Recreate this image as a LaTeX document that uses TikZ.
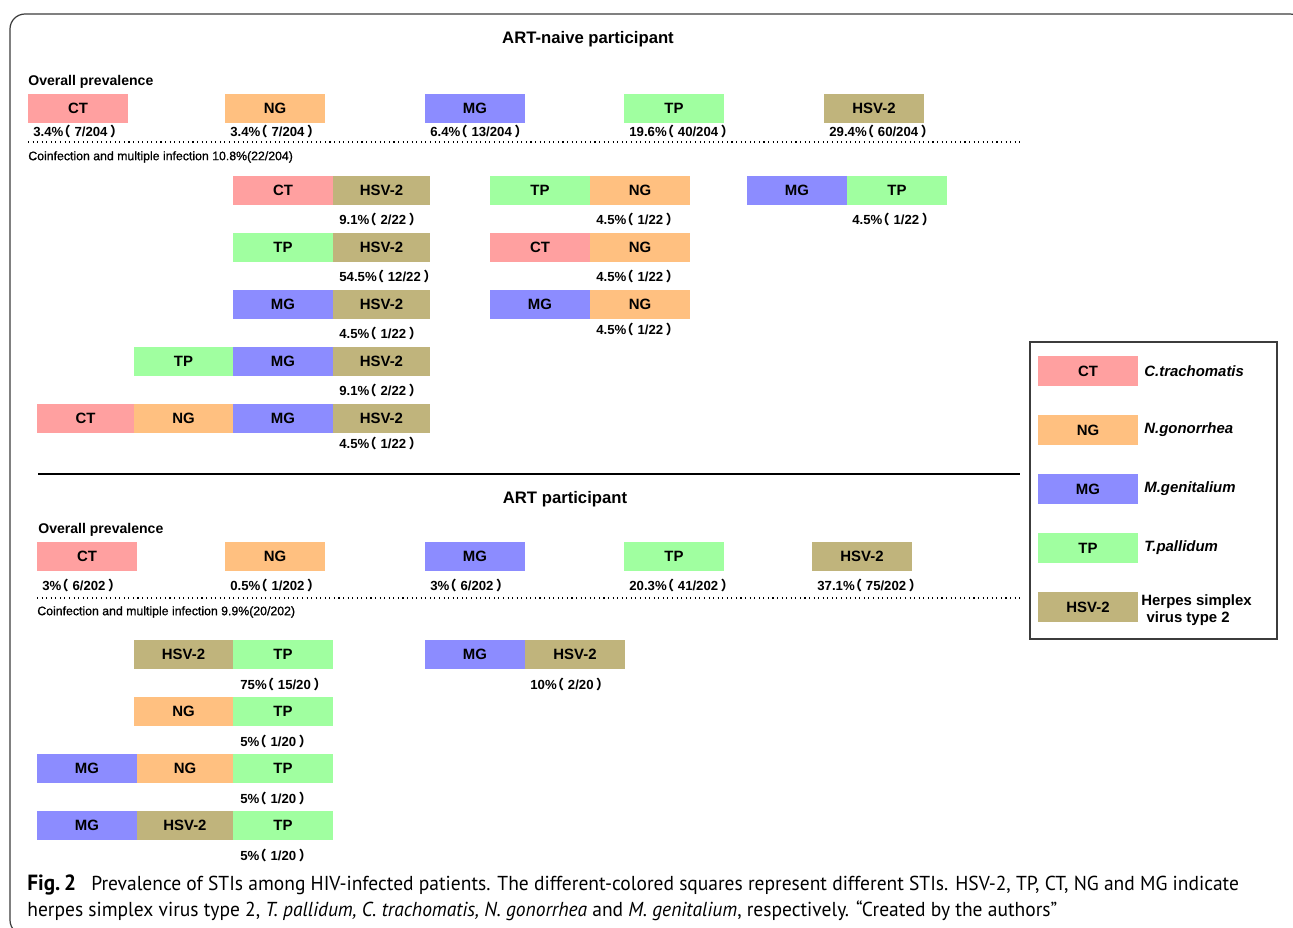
\documentclass[tikz,border=0pt]{standalone}
\usepackage{fontspec}
\setmainfont{Liberation Sans}
\newfontfamily\cjkfont{Noto Sans CJK SC}
\newfontfamily\capfont{PT Sans}[FakeStretch=0.965]
\newfontfamily\medfont{Liberation Sans}[FakeBold=0.9]
\usetikzlibrary{positioning}

\definecolor{ctc}{RGB}{255,160,160}
\definecolor{ngc}{RGB}{255,192,128}
\definecolor{mgc}{RGB}{140,140,255}
\definecolor{tpc}{RGB}{160,255,160}
\definecolor{hsvc}{RGB}{192,180,124}
\definecolor{framec}{RGB}{60,60,60}

\newcommand{\wideL}{\kern-0.45em{\cjkfont （}\kern0.3em}
\newcommand{\wideR}{\kern0.2em{\cjkfont ）}}

\tikzset{
  stibox/.style={rectangle, inner sep=0pt, outer sep=0pt, anchor=north west,
    minimum width=2cm, minimum height=0.58cm,
    font=\bfseries\fontsize{8.5}{10}\selectfont},
  ctbox/.style={stibox, fill=ctc},
  ngbox/.style={stibox, fill=ngc},
  mgbox/.style={stibox, fill=mgc},
  tpbox/.style={stibox, fill=tpc},
  hsvbox/.style={stibox, fill=hsvc},
  rate/.style={anchor=west, inner sep=0pt, font=\bfseries\fontsize{7.5}{9}\selectfont},
  heading/.style={inner sep=0pt, font=\bfseries\fontsize{9.5}{11}\selectfont},
  subhead/.style={anchor=west, inner sep=0pt, font=\bfseries\fontsize{8}{10}\selectfont},
  coinf/.style={anchor=west, inner sep=0pt, font=\medfont\fontsize{7}{8}\selectfont},
  species/.style={anchor=west, inner sep=0pt, font=\bfseries\itshape\fontsize{8.5}{10}\selectfont},
  capline/.style={anchor=base west, inner sep=0pt, font=\capfont\fontsize{11.5}{14}\selectfont}
}

\begin{document}
\begin{tikzpicture}[x=0.02cm, y=-0.02cm]
    \useasboundingbox (0,0) rectangle (1293,927);
    \draw[framec, line width=0.7pt, rounded corners=0.3cm] (10,14) rectangle (1305,935);

    % ART-naive
    \node[heading] (naive) at (588,39) {ART-naive participant};
    \node[subhead] (naive-all) at (28,82) {Overall prevalence};
    \node[ctbox] (n-ct) at (28,94) {CT};
    \node[ngbox] (n-ng) at (225,94) {NG};
    \node[mgbox] (n-mg) at (425,94) {MG};
    \node[tpbox] (n-tp) at (624,94) {TP};
    \node[hsvbox] (n-hsv) at (824,94) {HSV-2};
    \node[rate] (n-ct-r) at (33,131) {3.4\%\wideL 7/204\wideR};
    \node[rate] (n-ng-r) at (230,131) {3.4\%\wideL 7/204\wideR};
    \node[rate] (n-mg-r) at (430,131) {6.4\%\wideL 13/204\wideR};
    \node[rate] (n-tp-r) at (629,131) {19.6\%\wideL 40/204\wideR};
    \node[rate] (n-hsv-r) at (829,131) {29.4\%\wideL 60/204\wideR};
    \draw[dotted, line width=0.6pt] (28,142) -- (1020,142);
    \node[coinf] (naive-co) at (28,157) {Coinfection and multiple infection 10.8\%(22/204)};

    \node[ctbox] (n1a) at (233,176) {CT};
    \node[hsvbox, minimum width=1.94cm, right=0pt of n1a] (n1b) {HSV-2};
    \node[rate] (n1-r) at (339,219) {9.1\%\wideL 2/22\wideR};
    \node[tpbox] (n2a) at (233,233) {TP};
    \node[hsvbox, minimum width=1.94cm, right=0pt of n2a] (n2b) {HSV-2};
    \node[rate] (n2-r) at (339,276) {54.5\%\wideL 12/22\wideR};
    \node[mgbox] (n3a) at (233,290) {MG};
    \node[hsvbox, minimum width=1.94cm, right=0pt of n3a] (n3b) {HSV-2};
    \node[rate] (n3-r) at (339,333) {4.5\%\wideL 1/22\wideR};
    \node[tpbox, minimum width=1.98cm] (n4a) at (134,347) {TP};
    \node[mgbox, right=0pt of n4a] (n4b) {MG};
    \node[hsvbox, minimum width=1.94cm, right=0pt of n4b] (n4c) {HSV-2};
    \node[rate] (n4-r) at (339,390) {9.1\%\wideL 2/22\wideR};
    \node[ctbox, minimum width=1.94cm] (n5a) at (37,404) {CT};
    \node[ngbox, minimum width=1.98cm, right=0pt of n5a] (n5b) {NG};
    \node[mgbox, right=0pt of n5b] (n5c) {MG};
    \node[hsvbox, minimum width=1.94cm, right=0pt of n5c] (n5d) {HSV-2};
    \node[rate] (n5-r) at (339,443) {4.5\%\wideL 1/22\wideR};

    \node[tpbox] (n6a) at (490,176) {TP};
    \node[ngbox, right=0pt of n6a] (n6b) {NG};
    \node[rate] (n6-r) at (596,219) {4.5\%\wideL 1/22\wideR};
    \node[ctbox] (n7a) at (490,233) {CT};
    \node[ngbox, right=0pt of n7a] (n7b) {NG};
    \node[rate] (n7-r) at (596,276) {4.5\%\wideL 1/22\wideR};
    \node[mgbox] (n8a) at (490,290) {MG};
    \node[ngbox, right=0pt of n8a] (n8b) {NG};
    \node[rate] (n8-r) at (596,329) {4.5\%\wideL 1/22\wideR};
    \node[mgbox] (n9a) at (747,176) {MG};
    \node[tpbox, right=0pt of n9a] (n9b) {TP};
    \node[rate] (n9-r) at (852,219) {4.5\%\wideL 1/22\wideR};

    \draw[line width=1pt] (38,474) -- (1020,474);

    % ART
    \node[heading] (art) at (565,499) {ART participant};
    \node[subhead] (art-all) at (38,530) {Overall prevalence};
    \node[ctbox] (a-ct) at (37,542) {CT};
    \node[ngbox] (a-ng) at (225,542) {NG};
    \node[mgbox] (a-mg) at (425,542) {MG};
    \node[tpbox] (a-tp) at (624,542) {TP};
    \node[hsvbox] (a-hsv) at (812,542) {HSV-2};
    \node[rate] (a-ct-r) at (42,585) {3\%\wideL 6/202\wideR};
    \node[rate] (a-ng-r) at (230,585) {0.5\%\wideL 1/202\wideR};
    \node[rate] (a-mg-r) at (430,585) {3\%\wideL 6/202\wideR};
    \node[rate] (a-tp-r) at (629,585) {20.3\%\wideL 41/202\wideR};
    \node[rate] (a-hsv-r) at (817,585) {37.1\%\wideL 75/202\wideR};
    \draw[dotted, line width=0.6pt] (37,598) -- (1020,598);
    \node[coinf] (art-co) at (37,612) {Coinfection and multiple infection 9.9\%(20/202)};

    \node[hsvbox, minimum width=1.98cm] (a1a) at (134,640) {HSV-2};
    \node[tpbox, right=0pt of a1a] (a1b) {TP};
    \node[rate] (a1-r) at (240,684) {75\%\wideL 15/20\wideR};
    \node[ngbox, minimum width=1.98cm] (a2a) at (134,697) {NG};
    \node[tpbox, right=0pt of a2a] (a2b) {TP};
    \node[rate] (a2-r) at (240,741) {5\%\wideL 1/20\wideR};
    \node[mgbox] (a3a) at (37,754) {MG};
    \node[ngbox, minimum width=1.92cm, right=0pt of a3a] (a3b) {NG};
    \node[tpbox, right=0pt of a3b] (a3c) {TP};
    \node[rate] (a3-r) at (240,798) {5\%\wideL 1/20\wideR};
    \node[mgbox] (a4a) at (37,811) {MG};
    \node[hsvbox, minimum width=1.92cm, right=0pt of a4a] (a4b) {HSV-2};
    \node[tpbox, right=0pt of a4b] (a4c) {TP};
    \node[rate] (a4-r) at (240,855) {5\%\wideL 1/20\wideR};
    \node[mgbox] (a5a) at (425,640) {MG};
    \node[hsvbox, right=0pt of a5a] (a5b) {HSV-2};
    \node[rate] (a5-r) at (530,684) {10\%\wideL 2/20\wideR};

    % legend
    \draw[framec, line width=0.8pt] (1030,342) rectangle (1277,639);
    \node[ctbox, minimum height=0.6cm] (key-ct) at (1038,356) {CT};
    \node[ngbox, minimum height=0.6cm] (key-ng) at (1038,415) {NG};
    \node[mgbox, minimum height=0.6cm] (key-mg) at (1038,474) {MG};
    \node[tpbox, minimum height=0.6cm] (key-tp) at (1038,533) {TP};
    \node[hsvbox, minimum height=0.6cm] (key-hsv) at (1038,592) {HSV-2};
    \node[species] (sp-ct) at (1144,371) {C.trachomatis};
    \node[species] (sp-ng) at (1144,430) {N.gonorrhea};
    \node[species] (sp-mg) at (1144,489) {M.genitalium};
    \node[species] (sp-tp) at (1144,548) {T.pallidum};
    \node[species, font=\bfseries\fontsize{8.5}{10}\selectfont, align=left] (sp-hsv) at (1141,610) {Herpes simplex\\\hspace{3pt}virus type 2};

    % caption
    \node[capline] (cap1) at (27,890) {{\bfseries\fontsize{12.5}{14}\selectfont Fig.\,2}\hspace{0.5em} Prevalence of STIs among HIV-infected patients. The different-colored squares represent different STIs. HSV-2, TP, CT, NG and MG indicate};
    \node[capline] (cap2) at (27,916) {herpes simplex virus type 2, \textit{T. pallidum, C. trachomatis, N. gonorrhea} and \textit{M. genitalium}, respectively. “Created by the authors”};
\end{tikzpicture}
\end{document}
